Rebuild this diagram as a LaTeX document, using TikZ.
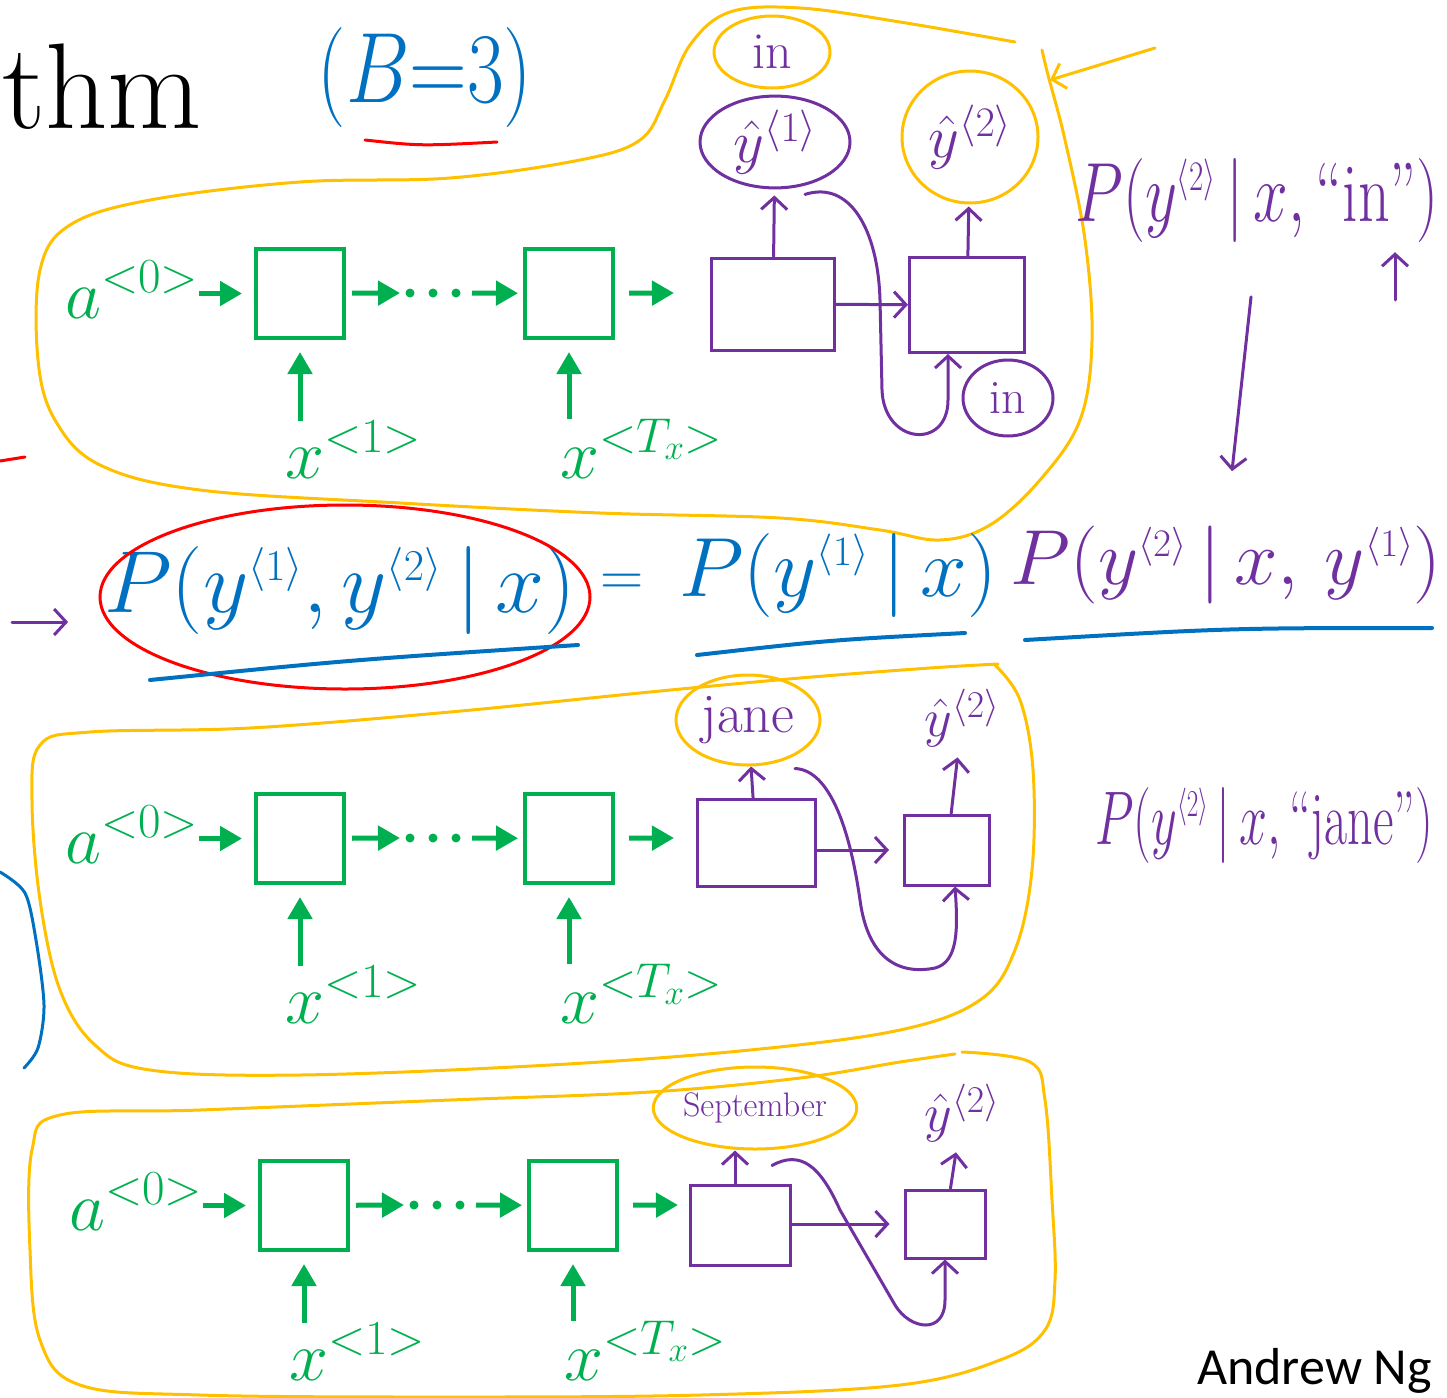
\RequirePackage{fix-cm}
\documentclass[tikz,border=0pt]{standalone}
\usepackage{fontspec}
\newfontfamily\ngsans{Carlito}
\usetikzlibrary{arrows.meta,shapes.geometric,positioning}

\definecolor{ngGreen}{RGB}{0,176,80}
\definecolor{ngPurple}{RGB}{112,48,160}
\definecolor{ngBlue}{RGB}{0,112,192}
\definecolor{ngYellow}{RGB}{255,192,0}
\definecolor{ngRed}{RGB}{255,0,0}

\newcommand{\hsup}[1]{^{\scriptscriptstyle\langle #1\rangle}}

\tikzset{
  encbox/.style={draw=ngGreen, line width=4pt, minimum width=88pt, minimum height=89pt, inner sep=0pt},
  enctext/.style={text=ngGreen, inner sep=0pt, font=\fontsize{70}{70}\selectfont},
  encarrow/.style={ngGreen, line width=5pt, -{Triangle[length=22pt,width=24pt]}},
  pen/.style={ngPurple, line width=3pt, line cap=round, line join=round},
  penarrow/.style={pen, -{Straight Barb[length=12pt,width=26pt]}},
  penbox/.style={draw=ngPurple, line width=3pt, inner sep=0pt},
  ring/.style={ellipse, draw=ngYellow, line width=3pt, text=ngPurple, inner sep=0pt},
  halo/.style={ellipse, draw=ngPurple, line width=3pt, text=ngPurple, inner sep=0pt},
  loopline/.style={ngYellow, line width=3pt, line cap=round},
  hand/.style={inner sep=0pt},
  underline/.style={ngBlue, line width=4pt, line cap=round}
}

\begin{document}
\begin{tikzpicture}[x=1pt, y=-1pt]
\useasboundingbox (0,0) rectangle (1447,1397);

% yellow groupings
\draw[loopline] plot[smooth, tension=0.6] coordinates {(1015,42) (900,22) (800,8) (730,12) (690,45) (665,100) (640,140) (580,160) (450,178) (300,182) (150,200) (70,225) (40,270) (38,360) (55,420) (100,465) (200,490) (400,503) (600,513) (780,518) (880,530) (940,540) (990,525) (1040,480) (1080,420) (1092,340) (1085,240) (1065,140) (1048,75) (1042,50)};
\draw[loopline] plot[smooth, tension=0.6] coordinates {(995,665) (1020,700) (1033,770) (1032,870) (1015,950) (980,1000) (900,1030) (750,1050) (550,1065) (300,1075) (150,1070) (95,1045) (60,990) (40,900) (32,800) (40,745) (90,732) (250,728) (450,712) (650,692) (800,678) (930,668) (998,664)};
\draw[loopline] plot[smooth, tension=0.6] coordinates {(962,1052) (1030,1062) (1045,1100) (1052,1200) (1055,1280) (1045,1330) (1000,1360) (900,1385) (700,1395) (450,1397) (200,1395) (80,1385) (40,1340) (30,1250) (32,1150) (60,1115) (200,1110) (450,1100) (650,1092) (800,1078) (900,1062) (955,1054)};

% title and beam width
\node[anchor=base west, inner sep=0pt, font=\fontsize{122}{122}\selectfont] (title) at (2,128) {thm};
\node[hand, text=ngBlue, font=\fontsize{100}{100}\selectfont] (beam) at (425,78) {\scalebox{0.8}[1]{$(B{=}3)$}};
\draw[ngRed, line width=3pt, line cap=round] (365,140) .. controls (420,146) .. (497,142);
\draw[ngRed, line width=3pt, line cap=round] (0,461) -- (25,457);
\draw[ngBlue, line width=3pt, line cap=round] plot[smooth] coordinates {(0,872) (25,893) (36,940) (44,1005) (38,1048) (24,1068)};

% encoder rows
\foreach \r/\shiftx/\shifty/\lbl in {1/0/0/478, 2/0/545/478, 3/4/912/468}{
  \begin{scope}[shift={(\shiftx,\shifty)}]
    \node[enctext, anchor=base west] (a\r) at (65,318) {$a^{<0>}$};
    \node[encbox] (b\r) at (300,293.5) {};
    \node[encbox] (c\r) at (569,293.5) {};
    \node[enctext, anchor=base west] (x\r) at (285,\lbl) {$x^{<1>}$};
    \node[enctext, anchor=base west] (t\r) at (560,\lbl) {$x^{<T_x>}$};
    \foreach \d in {410,433,456}
      \fill[ngGreen] (\d,293) circle (4.5);
    \coordinate (d\r) at (400,293);
    \coordinate (e\r) at (472,293);
    \coordinate (o\r) at (674,293);
    \draw[encarrow, shorten >=12pt] (a\r.east |- b\r) -- (b\r);
    \draw[encarrow, shorten <=6pt] (b\r) -- (d\r);
    \draw[encarrow, shorten >=5pt] (e\r) -- (c\r);
    \draw[encarrow, shorten <=14pt] (c\r) -- (o\r);
    \draw[encarrow, shorten >=12pt] (b\r |- x\r.north) -- (b\r);
    \draw[encarrow, shorten >=12pt] (c\r |- t\r.north) -- (c\r);
  \end{scope}
}

% first step, beam of "in"
\node[penbox, minimum width=123pt, minimum height=92pt] (decA) at (773,304) {};
\node[penbox, minimum width=115pt, minimum height=95pt] (decB) at (967,305) {};
\node[halo, minimum width=150pt, minimum height=86pt, font=\fontsize{60}{60}\selectfont] (yhatA) at (775,142) {$\hat{y}^{\langle 1\rangle}$};
\node[ring, minimum width=116pt, minimum height=72pt, font=\fontsize{52}{52}\selectfont] (wordIn) at (772,52) {in};
\node[ring, minimum width=136pt, minimum height=132pt, font=\fontsize{60}{60}\selectfont] (yhatB) at (970,137) {$\hat{y}^{\langle 2\rangle}$};
\node[halo, minimum width=90pt, minimum height=76pt, font=\fontsize{48}{48}\selectfont] (feedIn) at (1008,398) {in};
\draw[penarrow, shorten >=6pt] (decA) -- (yhatA);
\draw[penarrow, shorten >=2pt] (decB) -- (yhatB);
\draw[penarrow] (decA) -- (decB);
\draw[penarrow] ([xshift=30pt,yshift=-5pt]yhatA.south) .. controls (850,180) and (878,230) .. (880,300) -- (882,390) .. controls (884,445) and (948,450) .. (948,400) -- ([xshift=-19pt]decB.south);

\coordinate (ptTail) at (1155,48);
\coordinate (ptHead) at (1050,80);
\draw[penarrow, ngYellow] (ptTail) -- (ptHead);

\node[hand, text=ngPurple, font=\fontsize{84}{84}\selectfont] (pIn) at (1257,200) {\scalebox{0.74}[1]{$P(y\hsup{2}\,|\,x,\mbox{``in''})$}};
\coordinate (inMark) at (1395,300);
\draw[penarrow, shorten >=10pt] (inMark) -- (inMark |- pIn.south);

% chain rule
\node[hand, text=ngBlue, font=\fontsize{88}{88}\selectfont] (pJoint) at (340,590) {$P(y\hsup{1},y\hsup{2}\,|\,x)$};
\draw[ngRed, line width=3pt] ([shift={(5,7)}]pJoint.center) ellipse [x radius=245, y radius=92];
\coordinate (arrowIn) at (12,622);
\draw[penarrow, shorten >=36pt] (arrowIn) -- (arrowIn -| pJoint.west);
\node[hand, text=ngBlue, font=\fontsize{60}{60}\selectfont] (eqSign) at (622,585) {$=$};
\node[hand, text=ngBlue, font=\fontsize{84}{84}\selectfont] (pFirst) at (838,575) {$P(y\hsup{1}\,|\,x)$};
\node[hand, text=ngPurple, font=\fontsize{78}{78}\selectfont] (pCond) at (1226,565) {$P(y\hsup{2}\,|\,x,\,y\hsup{1})$};
\draw[penarrow, shorten <=55pt, shorten >=55pt] (pIn.south) -- (pCond.north);
\draw[underline] (150,680) .. controls (350,660) .. (578,645);
\draw[underline] (697,655) .. controls (830,640) .. (965,633);
\draw[underline] (1025,640) .. controls (1230,628) .. (1432,628);

% second step, beam of "jane"
\node[penbox, minimum width=118pt, minimum height=87pt] (decC) at (756,843) {};
\node[penbox, minimum width=85pt, minimum height=70pt] (decD) at (947,850) {};
\node[ring, minimum width=144pt, minimum height=90pt, font=\fontsize{56}{56}\selectfont] (wordJane) at (748,720) {jane};
\node[hand, text=ngPurple, font=\fontsize{54}{54}\selectfont] (yhatJ) at (962,718) {$\hat{y}^{\langle 2\rangle}$};
\draw[penarrow] (decC) -- (wordJane);
\draw[penarrow, shorten >=10pt] (decD) -- (yhatJ);
\draw[penarrow, shorten >=14pt] (decC.east |- decD) -- (decD);
\draw[penarrow] ([xshift=47pt,yshift=-2pt]wordJane.south) .. controls (830,770) and (850,830) .. (860,900) .. controls (868,960) and (900,975) .. (935,968) .. controls (958,962) and (958,930) .. ([xshift=8pt]decD.south);
\node[hand, text=ngPurple, font=\fontsize{76}{76}\selectfont, anchor=west] (pJane) at (1095,825) {\scalebox{0.66}[1]{$P(y\hsup{2}\,|\,x,\mbox{``jane''})$}};

% third step, beam of "september"
\node[penbox, minimum width=100pt, minimum height=80pt] (decE) at (740,1225) {};
\node[penbox, minimum width=80pt, minimum height=68pt] (decF) at (945,1224) {};
\node[ring, minimum width=190pt, minimum height=82pt, font=\fontsize{34}{34}\selectfont] (wordSept) at (755,1108) {September};
\node[hand, text=ngPurple, font=\fontsize{54}{54}\selectfont] (yhatS) at (962,1113) {$\hat{y}^{\langle 2\rangle}$};
\draw[penarrow] ([xshift=-5pt]decE.north) -- ([xshift=-20pt]wordSept.south);
\draw[penarrow, shorten >=10pt] (decF) -- (yhatS);
\draw[penarrow, shorten >=14pt] (decE.east |- decF) -- (decF);
\draw[penarrow] ([xshift=17pt,yshift=-15pt]wordSept.south) .. controls (800,1150) and (820,1165) .. (840,1210) -- (895,1305) .. controls (910,1330) and (945,1335) .. (945,1300) -- (decF.south);

\node[anchor=base west, inner sep=0pt, font=\ngsans\fontsize{52}{52}\selectfont] (author) at (1197,1384) {Andrew Ng};
\end{tikzpicture}
\end{document}
